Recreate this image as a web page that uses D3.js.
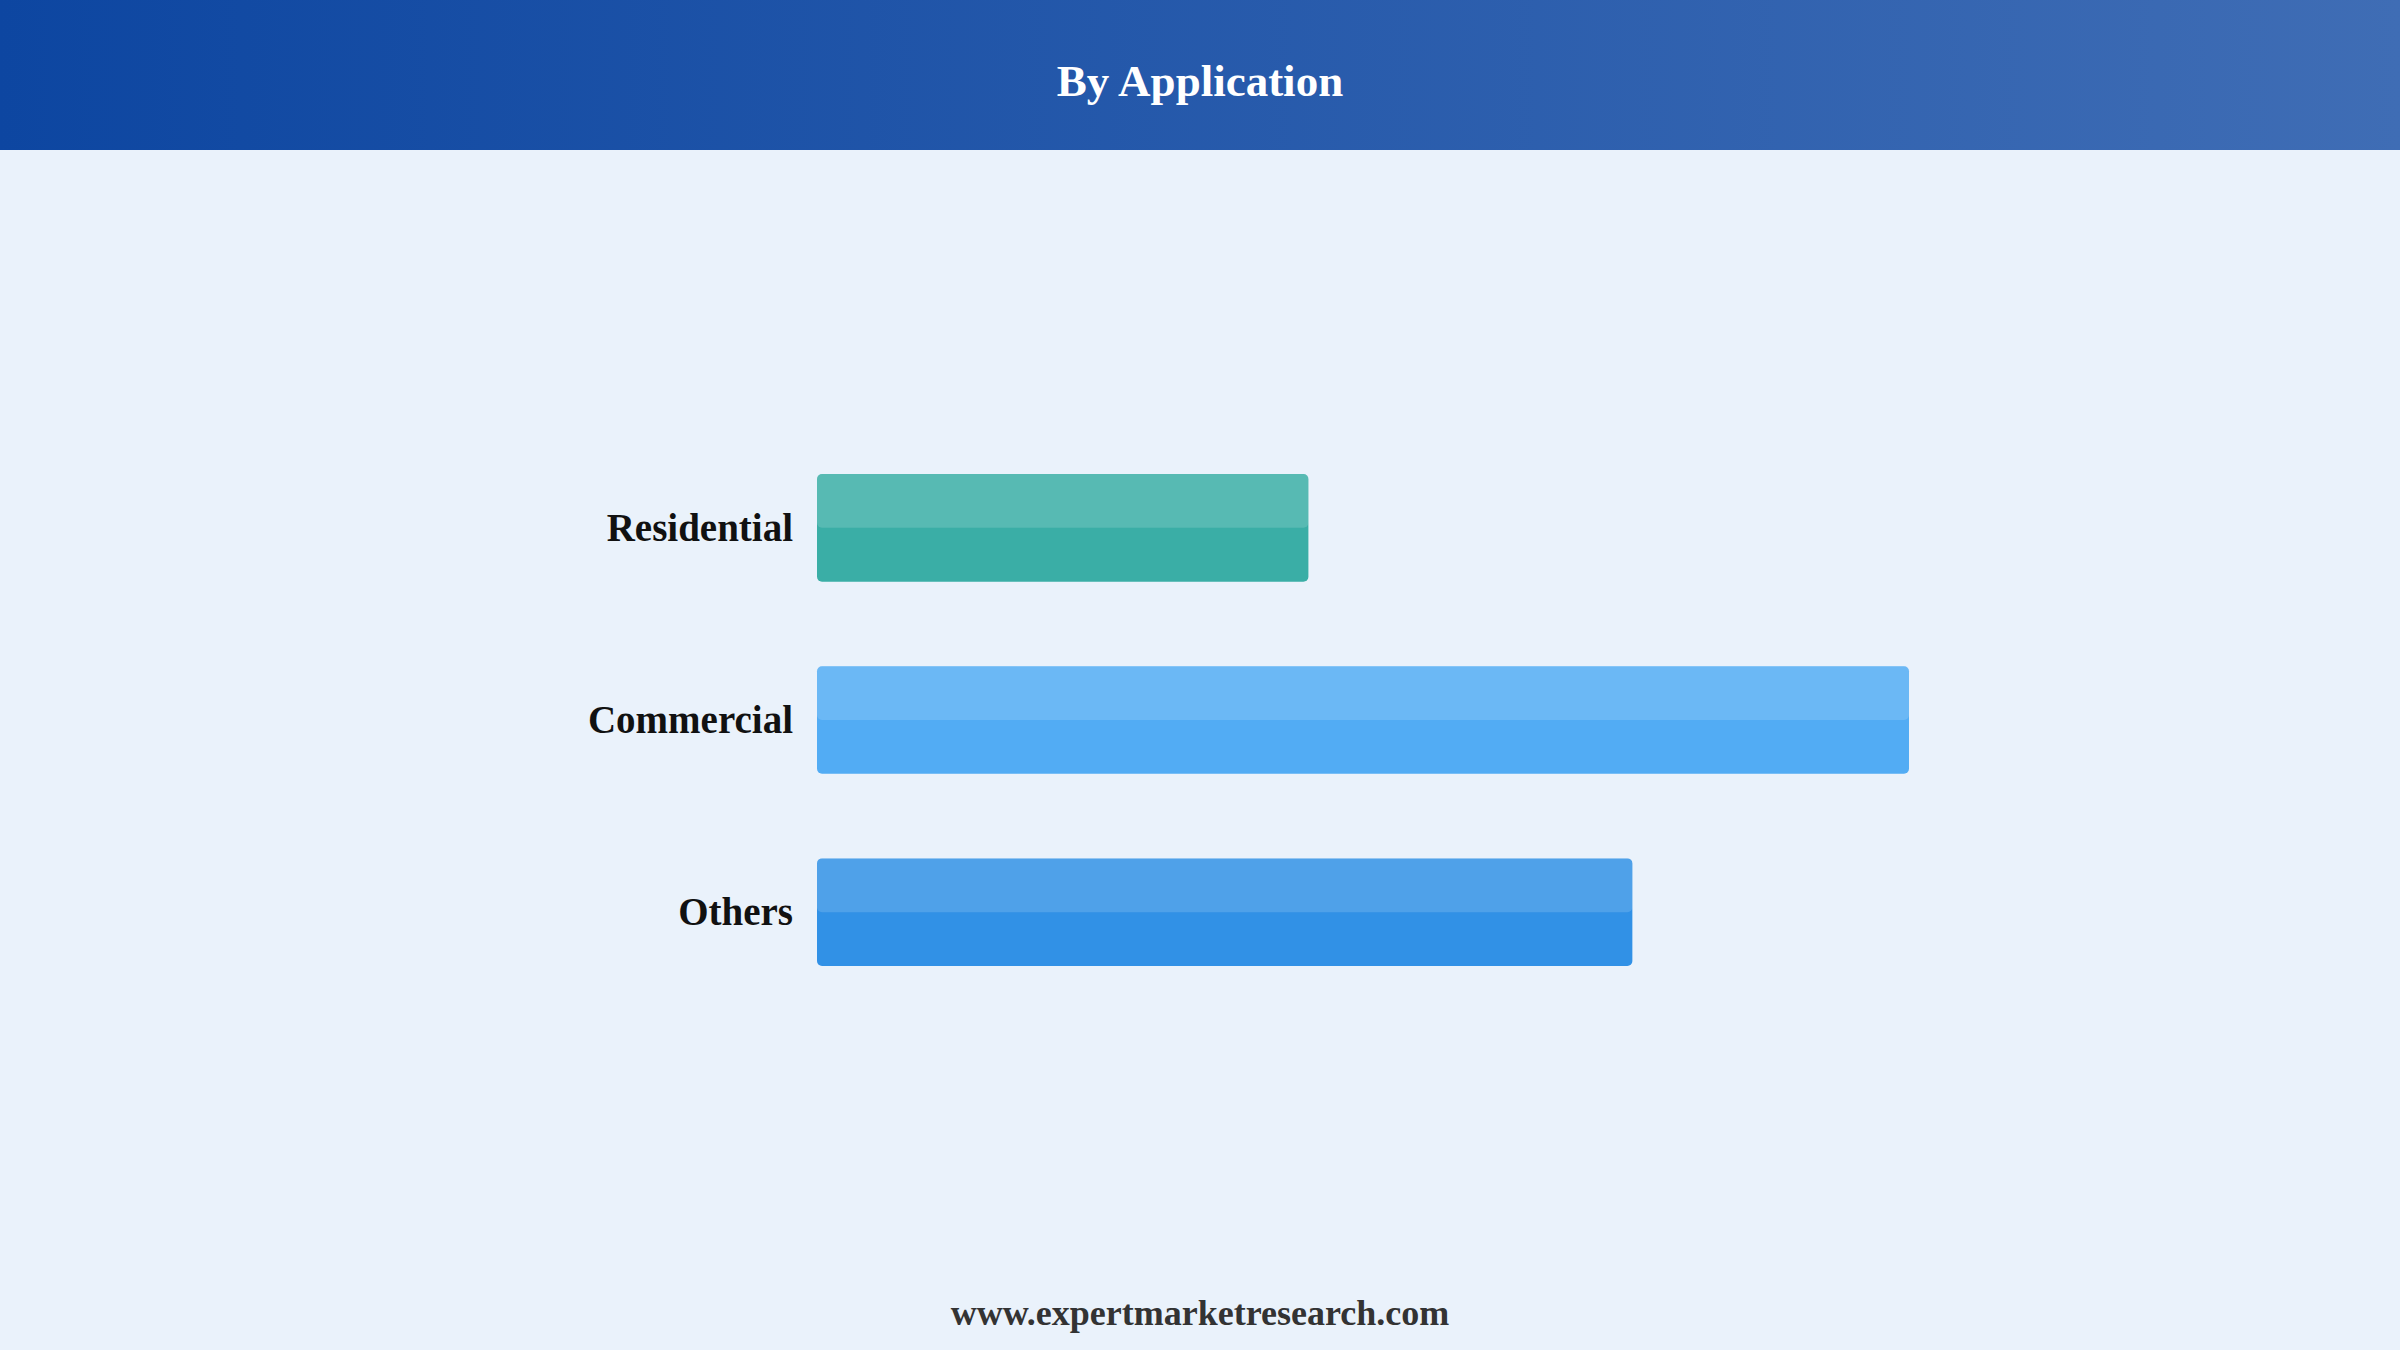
<!DOCTYPE html>
<html>
<head>
<meta charset="utf-8">
<script src="https://cdn.jsdelivr.net/npm/d3@7"></script>
<style>
  html, body { margin: 0; padding: 0; background: #eaf2fb; }
  svg { display: block; }
</style>
</head>
<body>
<svg id="chart" width="2400" height="1350"></svg>
<script>
const categories = ["Residential", "Commercial", "Others"];
const values = [27, 60, 44.8];
const barColors = ["#3aaea6", "#52acf4", "#3191e6"];

const svg = d3.select("#chart"),
      width = +svg.attr("width"),
      height = +svg.attr("height");

// background
svg.append("rect")
    .attr("width", width)
    .attr("height", height)
    .attr("fill", "#eaf2fb");

// header gradient
const defs = svg.append("defs");
const grad = defs.append("linearGradient")
    .attr("id", "hdr")
    .attr("x1", "0%").attr("x2", "100%")
    .attr("y1", "0%").attr("y2", "0%");
grad.append("stop").attr("offset", "0%").attr("stop-color", "#0d46a1");
grad.append("stop").attr("offset", "100%").attr("stop-color", "#3f6db5");

svg.append("rect")
    .attr("width", width)
    .attr("height", 150)
    .attr("fill", "url(#hdr)");

svg.append("text")
    .attr("x", width / 2)
    .attr("y", 96)
    .attr("text-anchor", "middle")
    .attr("font-family", "'Liberation Serif', 'Times New Roman', serif")
    .attr("font-weight", "bold")
    .attr("font-size", "45px")
    .attr("fill", "#ffffff")
    .text("By Application");

const data = categories.map((c, i) => ({ name: c, value: values[i], color: barColors[i] }));

const x = d3.scaleLinear()
    .domain([0, 60])
    .range([817, 1909]);

const y = d3.scaleBand()
    .domain(categories)
    .range([474, 966])
    .paddingInner(0.44)
    .paddingOuter(0);

// bars
svg.selectAll(".bar")
    .data(data)
    .enter()
    .append("rect")
    .attr("class", "bar")
    .attr("x", x(0))
    .attr("y", d => y(d.name))
    .attr("width", d => x(d.value) - x(0))
    .attr("height", y.bandwidth())
    .attr("rx", 5)
    .attr("fill", d => d.color);

// top-half highlight
svg.selectAll(".shine")
    .data(data)
    .enter()
    .append("rect")
    .attr("class", "shine")
    .attr("x", x(0))
    .attr("y", d => y(d.name))
    .attr("width", d => x(d.value) - x(0))
    .attr("height", y.bandwidth() / 2)
    .attr("rx", 5)
    .attr("fill", "#ffffff")
    .attr("opacity", 0.15);

// category labels
svg.selectAll(".label")
    .data(data)
    .enter()
    .append("text")
    .attr("class", "label")
    .attr("x", x(0) - 24)
    .attr("y", d => y(d.name) + y.bandwidth() / 2)
    .attr("dy", "0.33em")
    .attr("text-anchor", "end")
    .attr("font-family", "'Liberation Serif', 'Times New Roman', serif")
    .attr("font-weight", "bold")
    .attr("font-size", "39px")
    .attr("fill", "#111111")
    .text(d => d.name);

// footer
svg.append("text")
    .attr("x", width / 2)
    .attr("y", 1325)
    .attr("text-anchor", "middle")
    .attr("font-family", "'Liberation Serif', 'Times New Roman', serif")
    .attr("font-weight", "bold")
    .attr("font-size", "36px")
    .attr("fill", "#333333")
    .text("www.expertmarketresearch.com");
</script>
</body>
</html>
